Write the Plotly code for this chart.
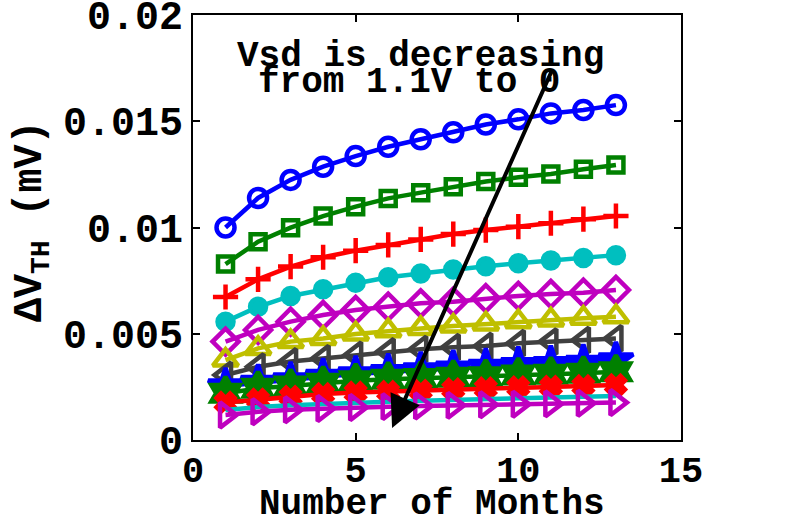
import plotly.graph_objects as go

months = list(range(1, 14))

s1 = [0.0100, 0.01139, 0.01224, 0.01286, 0.01336, 0.0138, 0.01415, 0.01448, 0.01485, 0.01509, 0.01537, 0.01553, 0.01576]
s2 = [0.00828, 0.00933, 0.00999, 0.01054, 0.01098, 0.01137, 0.01164, 0.01192, 0.01216, 0.01236, 0.01252, 0.01274, 0.01294]
s3 = [0.00673, 0.00756, 0.00816, 0.0086, 0.00891, 0.00918, 0.00944, 0.00969, 0.00988, 0.01004, 0.0102, 0.01039, 0.01054]
s4 = [0.00557, 0.00627, 0.00678, 0.00709, 0.0074, 0.00766, 0.00784, 0.00802, 0.00818, 0.00832, 0.00845, 0.00856, 0.0087]
s5 = [0.00463, 0.00518, 0.00557, 0.00588, 0.00612, 0.00627, 0.00643, 0.00651, 0.00667, 0.00678, 0.00687, 0.00693, 0.00706]
s6 = [0.00376, 0.00431, 0.00463, 0.00478, 0.00499, 0.00514, 0.00525, 0.00536, 0.00546, 0.00557, 0.00565, 0.00573, 0.0058]
s7 = [0.00306, 0.00345, 0.00369, 0.00384, 0.0040, 0.00416, 0.00427, 0.00436, 0.00442, 0.00455, 0.00463, 0.0047, 0.00478]
s8 = [0.00254, 0.0027, 0.00282, 0.00298, 0.0031, 0.00321, 0.00329, 0.00337, 0.00345, 0.00353, 0.00358, 0.00364, 0.00376]
s9 = [0.0022, 0.00243, 0.00254, 0.00267, 0.00279, 0.00286, 0.0029, 0.00295, 0.00298, 0.00306, 0.0031, 0.00314, 0.00321]
s10 = [0.00176, 0.00191, 0.00204, 0.00216, 0.00223, 0.00227, 0.00232, 0.00239, 0.00243, 0.00248, 0.00251, 0.00254, 0.00259]
s11 = [0.00141, 0.00155, 0.00163, 0.0017, 0.00176, 0.0018, 0.00185, 0.00189, 0.00192, 0.00196, 0.00199, 0.00203, 0.00207]
s12 = [0.00118, 0.00133, 0.00142, 0.00148, 0.00153, 0.00157, 0.0016, 0.00163, 0.00166, 0.00168, 0.0017, 0.00173, 0.00176]

series = [s1, s2, s3, s4, s5, s6, s7, s8, s9, s10, s11, s12]
colors = ["#0000FF", "#008000", "#FF0000", "#00BFBF", "#BF00BF", "#BFBF00",
          "#404040", "#0000FF", "#008000", "#FF0000", "#00BFBF", "#BF00BF"]
symbols = ["circle-open", "square-open", "cross-thin-open", "circle", "diamond-open",
           "triangle-up-open", "triangle-left-open", "star", "hexagram", "x", None,
           "triangle-right-open"]
msizes = [18, 15, 18, 16, 20, 22, 22, 26, 25, 16, 0, 22]

xticks = [0, 5, 10, 15]
yticks = [0, 0.005, 0.01, 0.015, 0.02]
yticklabels = ["0", "0.005", "0.01", "0.015", "0.02"]

FONT = "Liberation Mono, Courier New, monospace"

fig = go.Figure()
for ys, c, sym, ms in zip(series, colors, symbols, msizes):
    if sym is None:
        fig.add_trace(go.Scatter(x=months, y=ys, mode="lines",
                                 line=dict(color=c, width=4.5), showlegend=False))
    else:
        fig.add_trace(go.Scatter(
            x=months, y=ys, mode="lines+markers",
            line=dict(color=c, width=4.5),
            marker=dict(symbol=sym, size=ms, color=c, line=dict(color=c, width=4.5)),
            showlegend=False))

fig.update_layout(
    width=798, height=524,
    margin=dict(l=193, r=117, t=15, b=84, autoexpand=False),
    plot_bgcolor="white", paper_bgcolor="white",
    font=dict(family=FONT, color="black", weight="bold"),
    xaxis=dict(range=[0, 15], tickvals=xticks, ticktext=[str(v) for v in xticks],
               automargin=False,
               showgrid=False, zeroline=False, showline=True, linecolor="black",
               linewidth=2, mirror="ticks", ticks="inside", ticklen=7, tickwidth=1.5,
               tickcolor="black", ticklabeloverflow="allow", ticklabelstandoff=-4,
               tickfont=dict(size=37, family=FONT, weight="bold")),
    yaxis=dict(range=[0, 0.02], tickvals=yticks, ticktext=yticklabels,
               automargin=False,
               showgrid=False, zeroline=False, showline=True, linecolor="black",
               linewidth=2, mirror="ticks", ticks="inside", ticklen=7, tickwidth=1.5,
               tickcolor="black", ticklabeloverflow="allow",
               tickfont=dict(size=40, family=FONT, weight="bold")),
)

fig.add_annotation(x=6.12, y=0.00057, ax=11.04, ay=0.01741, xref="x", yref="y",
                   axref="x", ayref="y", text="", showarrow=True, arrowhead=2,
                   arrowsize=1.6, arrowwidth=4, arrowcolor="black", standoff=0)
fig.add_annotation(x=6.98, y=0.01806, xref="x", yref="y", text="Vsd is decreasing",
                   showarrow=False, xanchor="center", yanchor="middle",
                   font=dict(size=36, family=FONT, weight="bold", color="black"))
fig.add_annotation(x=6.64, y=0.01684, xref="x", yref="y", text="from 1.1V to 0",
                   showarrow=False, xanchor="center", yanchor="middle",
                   font=dict(size=36, family=FONT, weight="bold", color="black"))
fig.add_annotation(x=(432 - 193) / 488, y=-0.152, xref="paper", yref="paper",
                   text="Number of Months", showarrow=False, xanchor="center",
                   yanchor="middle", font=dict(size=36, family=FONT, weight="bold"))
fig.add_annotation(x=-0.33, y=0.515, xref="paper", yref="paper",
                   text="ΔV<sub>TH</sub> (mV)", textangle=-90, showarrow=False,
                   xanchor="center", yanchor="middle",
                   font=dict(size=40, family=FONT, weight="bold"))

fig.write_html("out.html")
